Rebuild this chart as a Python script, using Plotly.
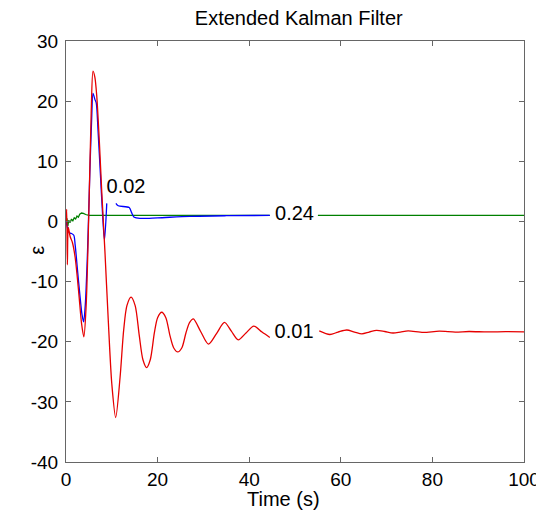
import plotly.graph_objects as go

# ---- data ----
red_x1 = [0, 0.15, 0.3, 0.5, 0.9, 1.4, 2.0, 2.8, 3.4, 3.9, 4.4, 5.0, 5.5, 5.9, 6.3, 6.7, 7.3, 7.8, 8.5, 9.2,
          10.0, 10.85, 11.8, 12.6, 13.3, 14.2, 15.1, 16.0, 16.8, 17.6, 18.4, 19.3, 20.0, 20.9, 21.8, 22.7,
          23.5, 24.4, 25.3, 26.2, 27.0, 27.8, 29.4, 31.1, 32.9, 34.6, 36.1, 37.6, 39.3, 41.0, 42.8, 44.5]
red_y1 = [0, 2, -7.2, -1, -2.5, -3.5, -6, -12, -17, -19.2, -14, 2, 18, 25, 24, 21, 13, 5, -5, -16,
          -27, -32.6, -26, -18, -14, -12.6, -14, -19, -23, -24.3, -23, -18.5, -16, -15.1, -16, -19,
          -21, -21.7, -21, -18.5, -16.8, -16.2, -18.3, -20.4, -18.6, -16.8, -18.25, -19.7, -18.55, -17.4, -18.4, -19.3]
red_x2 = [55.3, 57.6, 59.4, 61.3, 63.0, 64.6, 66.2, 67.8, 69.6, 71.4, 73.0, 74.7, 78.0, 81.5, 85.0, 88.0, 92.0, 96.0, 100]
red_y2 = [-18.2, -18.8, -18.4, -18.05, -18.4, -18.7, -18.4, -18.1, -18.3, -18.55, -18.4, -18.2, -18.45, -18.25,
          -18.4, -18.3, -18.38, -18.33, -18.35]

blue_x1 = [0, 0.3, 0.7, 1.2, 1.7, 2.0, 2.5, 3.0, 3.5, 3.85, 4.2, 4.7, 5.2, 5.6, 5.9, 6.3, 6.6, 7.0, 7.5, 8.0, 8.4, 8.9]
blue_y1 = [0, -1, -1.9, -2.0, -2.3, -3.9, -8, -12, -15.5, -16.7, -14, -5, 8, 17, 21.3, 20.3, 19.7, 15, 8, 1, -3.1, 3.0]
blue_x2 = [10.9, 11.4, 13.8, 14.3, 14.9, 16.2, 20, 27, 35, 44.5]
blue_y2 = [3.0, 2.6, 2.3, 1.5, 0.7, 0.5, 0.6, 0.85, 0.95, 1.0]

green_x1 = [0, 0.2, 0.4, 0.6, 0.9, 1.2, 1.5, 1.8, 2.1, 2.4, 2.7, 3.0, 3.4, 3.8, 4.3, 5.0, 44.5]
green_y1 = [-0.3, 0.5, -0.8, 0.2, -0.2, 0.4, 0.1, 0.6, 0.4, 0.9, 0.7, 1.2, 1.4, 1.35, 1.15, 1.0, 1.0]
green_x2 = [55.0, 100]
green_y2 = [1.0, 1.0]

label_text = ["0.02", "0.24", "0.01"]
label_x = [13.1, 49.9, 49.8]
label_y = [5.6, 1.0, -18.6]

x_ticks = [0, 20, 40, 60, 80, 100]
y_ticks = [-40, -30, -20, -10, 0, 10, 20, 30]

RED = "rgb(230,0,0)"
BLUE = "rgb(0,0,255)"
GREEN = "rgb(0,128,0)"
FONT = "Liberation Sans, Arial, sans-serif"

fig = go.Figure()
for xs, ys, c, shape in [
    (green_x1, green_y1, GREEN, "linear"),
    (green_x2, green_y2, GREEN, "linear"),
    (blue_x1, blue_y1, BLUE, "spline"),
    (blue_x2, blue_y2, BLUE, "spline"),
    (red_x1, red_y1, RED, "spline"),
    (red_x2, red_y2, RED, "spline"),
]:
    fig.add_trace(go.Scatter(x=xs, y=ys, mode="lines",
                             line=dict(color=c, width=1.3, shape=shape, smoothing=0.8),
                             showlegend=False, hoverinfo="skip"))

fig.add_trace(go.Scatter(x=label_x, y=label_y, mode="text", text=label_text,
                         textfont=dict(family=FONT, size=20, color="black"),
                         showlegend=False, hoverinfo="skip"))

axis_common = dict(showgrid=False, zeroline=False, showline=True, mirror="ticks",
                   linecolor="#666666", linewidth=1, ticks="inside", ticklen=5,
                   tickcolor="#666666", automargin=False,
                   tickfont=dict(family=FONT, size=19, color="black"))

# page body has an 8px margin, so the figure is 8px smaller and its margins shifted
fig.update_layout(
    width=536, height=507,
    margin=dict(l=58, r=20, t=33, b=53),
    paper_bgcolor="white", plot_bgcolor="white",
    title=dict(text="Extended Kalman Filter", x=0.5425, xanchor="center", y=0.98, yanchor="middle",
               font=dict(family=FONT, size=20, color="black")),
    xaxis=dict(range=[0, 100], tickvals=x_ticks, ticktext=[str(v) for v in x_ticks],
               ticklabelstandoff=0, **axis_common),
    yaxis=dict(range=[-40, 30], tickvals=y_ticks, ticktext=[str(v) for v in y_ticks],
               ticklabelstandoff=3, **axis_common),
    annotations=[
        dict(text="Time (s)", xref="paper", yref="paper", x=0.474, y=-0.089,
             xanchor="center", yanchor="middle", showarrow=False,
             font=dict(family=FONT, size=20, color="black")),
        dict(text="ε", xref="paper", yref="paper", x=-0.064, y=0.5036,
             xanchor="center", yanchor="middle", showarrow=False, textangle=-90,
             font=dict(family=FONT, size=20, color="black")),
    ],
)

fig.write_html("out.html")
